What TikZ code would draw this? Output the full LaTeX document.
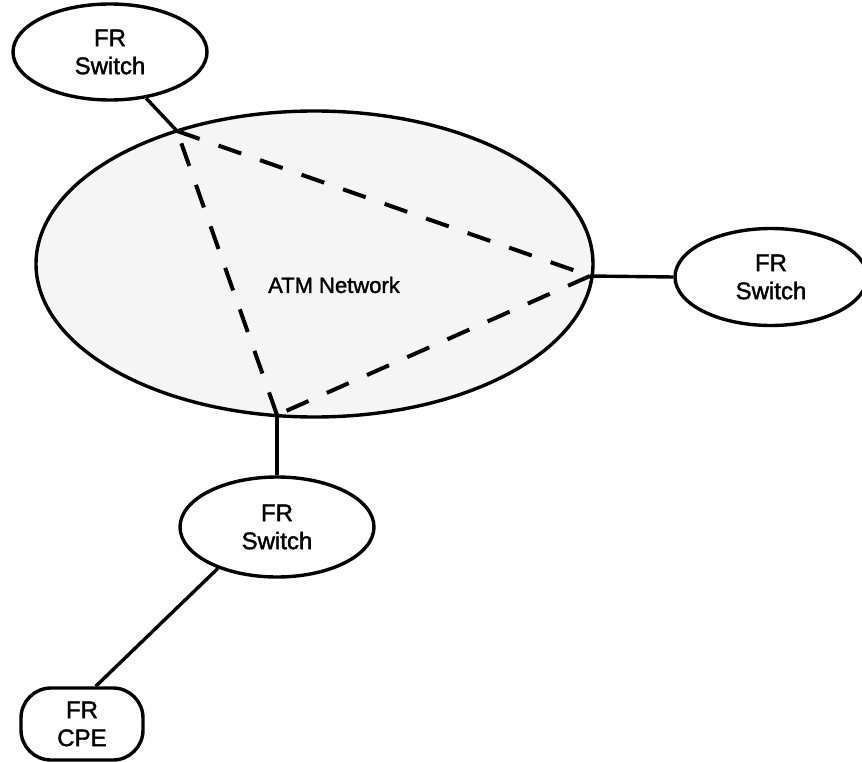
\documentclass[tikz,border=0pt]{standalone}
\usepackage{fontspec}
\setmainfont{Liberation Sans}
\newfontfamily\labelfont{Liberation Sans}[FakeBold=1.6]
\usetikzlibrary{shapes.geometric}

\tikzset{
  outline/.style={draw=black, line width=3.4pt},
  switchnode/.style={outline, ellipse, fill=white, inner sep=0pt, align=center,
    font=\labelfont\fontsize{24}{28}\selectfont},
  cpenode/.style={outline, rectangle, rounded corners=30pt, fill=white, inner sep=0pt,
    align=center, font=\labelfont\fontsize{24}{28}\selectfont},
  cloud/.style={outline, ellipse, fill=black!4, inner sep=0pt},
  link/.style={draw=black, line width=3.4pt},
  vc/.style={draw=black, line width=4pt, dash pattern=on 24pt off 20pt}
}

\begin{document}
\begin{tikzpicture}[x=1pt, y=-1pt]
  \useasboundingbox (0,0) rectangle (862,762);

  % ATM cloud
  \node[cloud, minimum width=557pt, minimum height=306pt] (atm) at (314.5,264) {};
  \node[font=\labelfont\fontsize{22}{26}\selectfont] (atmlabel) at (334,285) {ATM Network};

  % entry points of the virtual circuits on the cloud border
  \coordinate (pa) at (177,131);
  \coordinate (pb) at (590,276);
  \coordinate (pc) at (277,415);

  % virtual circuits across the ATM network
  \draw[vc] (pa) -- (pb);
  \draw[vc] (pb) -- (pc);
  \draw[vc] (pc) -- (pa);

  % frame relay equipment
  \node[switchnode, minimum width=194pt, minimum height=96pt] (sw1) at (110,52) {FR\\Switch};
  \node[switchnode, minimum width=192pt, minimum height=97pt] (sw2) at (771,277) {FR\\Switch};
  \node[switchnode, minimum width=194pt, minimum height=100pt] (sw3) at (277,527) {FR\\Switch};
  \node[cpenode, minimum width=122pt, minimum height=72pt] (cpe) at (82,724) {FR\\CPE};

  % access links
  \draw[link] (sw1.-52) -- (pa);
  \draw[link] (pb) -- (sw2.west);
  \draw[link] (pc) -- (sw3.north);
  \draw[link] (sw3.-145) -- (cpe.70);
\end{tikzpicture}
\end{document}
